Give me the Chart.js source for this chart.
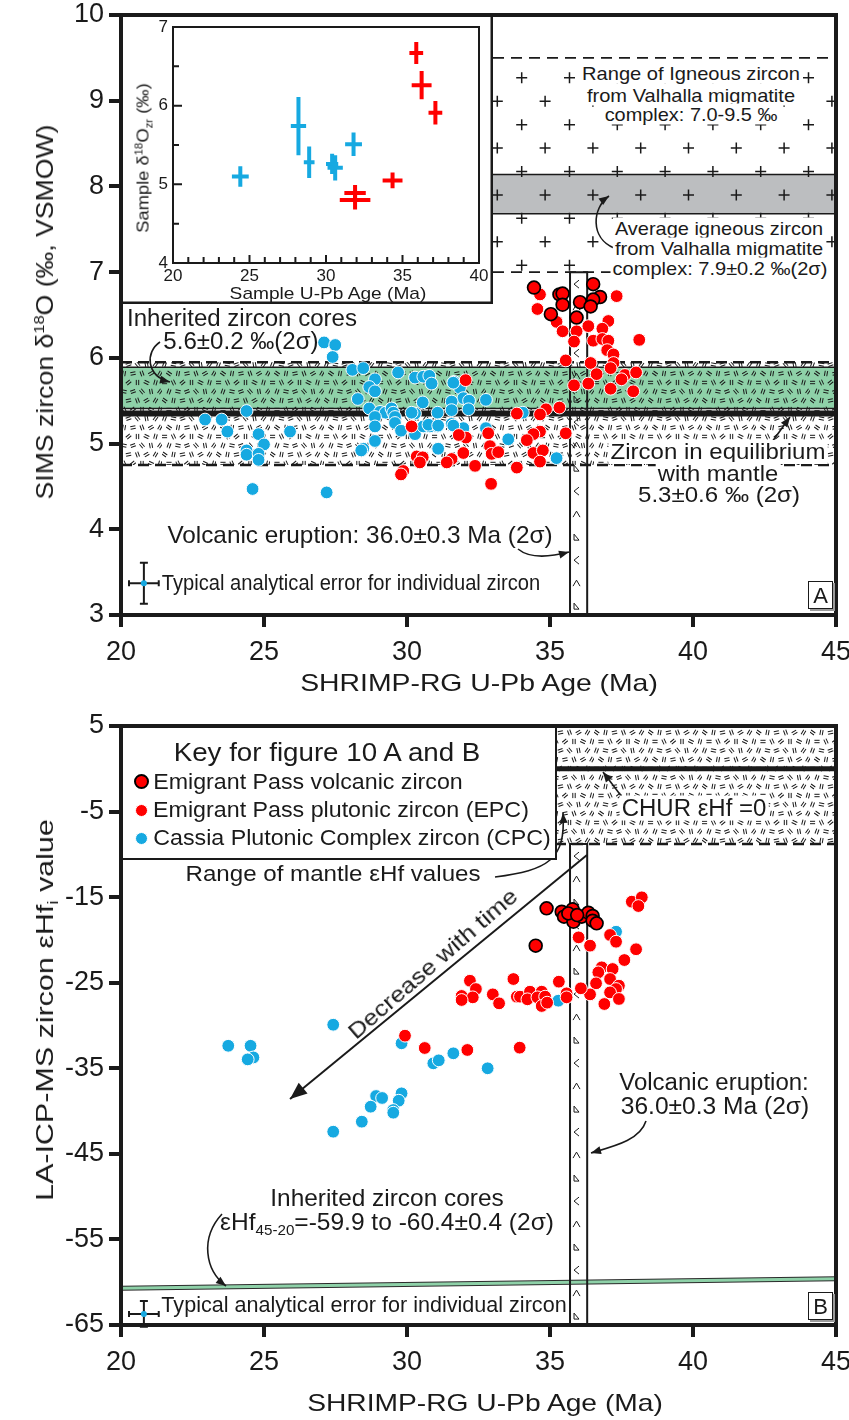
<!DOCTYPE html>
<html><head><meta charset="utf-8">
<script src="https://cdn.jsdelivr.net/npm/chart.js@4"></script>
<style>
body{margin:0;background:#fff;}
#page{position:relative;width:849px;height:1420px;overflow:hidden;background:#fff;font-family:"Liberation Sans",Arial,Helvetica,sans-serif;color:#1a1a1a;}
canvas{position:absolute;}
.t{position:absolute;white-space:nowrap;line-height:1;transform-origin:50% 50%;}
.t sub,.t sup{line-height:0;}
</style></head>
<body><div id="page">
<canvas id="cA" width="849" height="710" style="left:0;top:0"></canvas>
<canvas id="cB" width="849" height="710" style="left:0;top:710px"></canvas>
<canvas id="cI" width="370" height="287" style="left:123px;top:17px;background:#fff"></canvas>
<canvas id="ov" width="849" height="1420" style="left:0;top:0"></canvas>
</div>
<script>
// ---------------- DATA ----------------
// Panel A: SIMS zircon d18O vs SHRIMP-RG age
const volcAgeA = [34.44,35.33,35.44,35.44,35.03,35.93,36.05,36.51,36.75,36.51,36.42];
const volcD18OA = [6.82,6.74,6.75,6.62,6.51,6.47,6.65,6.86,6.71,6.68,6.60];
const epcAgeA = [34.65,34.56,37.33,35.23,35.44,35.93,36.34,35.84,36.51,37.04,36.83,36.83,37.04,38.12,37.00,37.22,35.55,36.42,37.22,37.12,36.63,35.84,36.34,37.62,37.50,38.01,37.12,37.91,32.05,34.86,34.65,35.33,33.84,35.55,34.65,34.42,34.19,32.84,32.06,31.81,32.90,32.96,33.19,31.97,31.56,31.39,30.34,30.55,30.45,32.38,33.84,34.42,34.75,34.65,32.94,30.16,29.87,29.79];
const epcD18OA = [6.74,6.57,6.72,6.42,6.31,6.31,6.37,6.19,6.20,6.43,6.34,6.22,6.20,6.21,6.09,6.04,5.97,5.94,5.94,5.88,5.81,5.68,5.70,5.80,5.75,5.83,5.64,5.61,5.74,5.40,5.34,5.42,5.35,5.12,5.14,5.11,5.04,5.12,5.07,5.10,4.97,4.88,4.90,4.89,4.82,4.78,4.85,4.84,4.78,4.74,4.72,4.89,4.92,4.79,4.53,5.20,4.68,4.64];
const cpcAgeA = [27.10,27.49,27.40,28.09,28.47,28.88,28.68,28.88,28.28,29.69,30.28,30.57,30.78,30.86,31.65,31.85,31.97,32.17,32.15,31.56,31.56,30.55,31.07,30.28,30.16,28.68,29.06,29.25,29.46,29.52,28.88,29.58,29.58,28.88,29.79,30.28,30.57,30.80,31.07,31.56,31.97,28.88,28.47,28.40,31.07,22.94,23.52,24.39,23.72,24.81,25.00,24.39,24.39,24.81,24.81,25.91,24.60,27.19,32.76,34.05,30.75,31.09,31.62,32.76,31.09,33.54,35.23,31.62];
const cpcD18OA = [6.18,6.15,6.01,5.86,5.88,5.75,5.66,5.61,5.52,5.83,5.77,5.78,5.79,5.70,5.72,5.65,5.53,5.50,5.40,5.49,5.39,5.48,5.36,5.35,5.36,5.41,5.37,5.36,5.41,5.36,5.31,5.31,5.24,5.20,5.15,5.11,5.20,5.20,5.20,5.23,5.18,5.03,4.94,4.92,4.94,5.28,5.28,5.38,5.14,5.11,4.99,4.92,4.87,4.88,4.81,5.14,4.47,4.43,5.51,5.36,5.22,5.21,5.21,5.18,4.94,5.05,4.83,5.71];

// Inset: sample averages with errors
const insCpcAge = [24.4,28.2,28.9,30.4,30.6,31.8];
const insCpcD18O = [5.10,5.74,5.28,5.26,5.21,5.51];
const insCpcAgeErr = [0.55,0.5,0.35,0.4,0.5,0.55];
const insCpcD18OErr = [0.13,0.37,0.2,0.13,0.16,0.15];
const insEpcAge = [31.9,31.9,34.35,35.9,36.25,37.15];
const insEpcD18O = [4.89,4.80,5.05,6.67,6.26,5.91];
const insEpcAgeErr = [0.7,1.0,0.65,0.45,0.65,0.45];
const insEpcD18OErr = [0.1,0.12,0.1,0.14,0.18,0.15];

// Panel B: LA-ICP-MS eHf vs age
const volcAgeB = [34.88,35.41,35.79,35.49,35.82,36.11,36.34,36.49,36.49,36.63,34.50,35.64,35.95];
const volcHfB = [-16.31,-16.70,-16.42,-17.28,-17.87,-17.28,-16.82,-17.20,-17.75,-18.06,-20.67,-16.90,-17.10];
const epcAgeB = [37.86,38.21,38.09,37.10,37.31,36.00,36.40,38.01,37.60,36.81,36.69,37.19,37.10,36.61,37.41,37.31,37.10,36.40,36.08,36.90,37.41,35.31,35.58,35.58,32.20,32.41,31.91,32.30,31.91,33.72,33.00,33.22,33.84,33.95,34.30,34.21,34.71,34.56,34.83,34.71,34.90,29.93,30.62,32.11,33.94];
const epcHfB = [-15.53,-15.02,-16.04,-19.42,-20.21,-19.70,-20.67,-21.09,-22.35,-23.20,-23.79,-23.40,-24.57,-25.07,-25.35,-25.74,-26.13,-26.36,-25.65,-27.49,-26.90,-24.88,-26.24,-26.71,-24.77,-25.74,-26.55,-26.71,-27.02,-24.57,-26.36,-27.41,-26.63,-26.63,-26.05,-26.94,-26.05,-26.71,-26.63,-27.72,-27.33,-31.19,-32.63,-32.86,-32.59];
const cpcAgeB = [37.31,35.29,27.42,23.75,24.53,24.63,24.43,29.81,30.92,31.11,31.62,32.82,28.92,29.13,29.81,29.71,28.73,29.52,29.52,28.42,27.42];
const cpcHfB = [-19.04,-27.10,-29.91,-32.37,-32.37,-33.73,-33.96,-32.08,-34.42,-34.07,-33.25,-35.00,-38.24,-38.47,-37.93,-38.79,-39.49,-39.88,-40.19,-41.24,-42.41];

// Reference ranges
const mantleD18O = [4.75, 5.95];
const inheritedD18O = [5.41, 5.89];
const mantleLineD18O = 5.35;
const valhallaRange = [7.0, 9.5];
const valhallaAvg = [7.68, 8.14];
const eruptionAge = [35.7, 36.3];
const mantleHf = [-8.8, 5];
const churHf = 0;
const inheritedHfEnds = [-60.7, -59.6]; // at age 20 and 45
const typErrA = {x:20.8, y:3.37, ex:0.52, ey:0.24};
const typErrB = {x:20.8, y:-63.7, ex:0.52, ey:1.5};

const xTicks = [20,25,30,35,40,45];

// ---------------- STYLE ----------------
const RED = '#ff0000', BLUE = '#16a9e1', GREEN = '#8ed1a8', GRAY = '#bcbec0', INK = '#1a1a1a';
const FONT = '"Liberation Sans", Arial, Helvetica, sans-serif';
const zip = (a,b) => a.map((v,i)=>({x:v,y:b[i]}));

function makeTexture(){
  const c = document.createElement('canvas'); c.width = 54; c.height = 54;
  const g = c.getContext('2d');
  g.strokeStyle = '#1a1a1a'; g.lineWidth = 1;
  const angles = [0,65,-40,90,25,-75,110,10,-20,50,80,-55,35,100,-10,70,-30,120];
  let k = 0;
  for (let r=0;r<6;r++) for (let col=0;col<6;col++){
    const cx = col*9 + (r%2?4.5:0) + 2.5, cy = r*9 + 4.5;
    const a = angles[(k++)%angles.length]*Math.PI/180;
    g.save(); g.translate(cx,cy); g.rotate(a);
    g.beginPath(); g.moveTo(-2.6,-1.2); g.lineTo(2.6,-1.2); g.moveTo(-2.6,1.2); g.lineTo(2.6,1.2); g.stroke();
    g.restore();
  }
  return c;
}
const texCanvas = makeTexture();

function hline(ctx, x0, x1, y, w, dash){
  ctx.save(); ctx.lineWidth = w; ctx.strokeStyle = INK; ctx.setLineDash(dash||[]);
  ctx.beginPath(); ctx.moveTo(x0,y); ctx.lineTo(x1,y); ctx.stroke(); ctx.restore();
}
function volcBar(ctx, x0, x1, top, bottom){
  ctx.save(); ctx.strokeStyle = INK; ctx.lineWidth = 2;
  ctx.beginPath(); ctx.moveTo(x0,bottom); ctx.lineTo(x0,top); ctx.lineTo(x1,top); ctx.lineTo(x1,bottom); ctx.stroke();
  ctx.lineWidth = 1;
  let i = 0;
  for (let py = top + 12; py < bottom - 4; py += 23, i++){
    ctx.beginPath();
    if (i%3===0){ ctx.moveTo(x0+9,py-4); ctx.lineTo(x0+4,py); ctx.lineTo(x0+9,py+4); }
    else if (i%3===1){ ctx.moveTo(x0+3,py+3); ctx.lineTo(x0+6.5,py-3); ctx.lineTo(x0+10,py+3); }
    else { ctx.moveTo(x0+4,py+3); ctx.lineTo(x0+4,py-3); ctx.lineTo(x0+9,py+3); ctx.closePath(); }
    ctx.stroke();
  }
  ctx.restore();
}
function typErr(ctx, x, y, e){
  const cx = x.getPixelForValue(e.x), cy = y.getPixelForValue(e.y);
  const x0 = x.getPixelForValue(e.x-e.ex), x1 = x.getPixelForValue(e.x+e.ex);
  const y0 = y.getPixelForValue(e.y-e.ey), y1 = y.getPixelForValue(e.y+e.ey);
  ctx.save(); ctx.strokeStyle = INK; ctx.lineWidth = 2;
  ctx.beginPath();
  ctx.moveTo(x0,cy); ctx.lineTo(x1,cy);
  ctx.moveTo(x0,cy-3); ctx.lineTo(x0,cy+3); ctx.moveTo(x1,cy-3); ctx.lineTo(x1,cy+3);
  ctx.moveTo(cx,y0); ctx.lineTo(cx,y1);
  ctx.moveTo(cx-4,y0); ctx.lineTo(cx+4,y0); ctx.moveTo(cx-4,y1); ctx.lineTo(cx+4,y1);
  ctx.stroke();
  ctx.fillStyle = BLUE; ctx.beginPath(); ctx.arc(cx,cy,3,0,Math.PI*2); ctx.fill();
  ctx.restore();
}
function frame(ctx, ca, w){
  ctx.save(); ctx.strokeStyle = INK; ctx.lineWidth = w;
  ctx.strokeRect(ca.left, ca.top, ca.right-ca.left, ca.bottom-ca.top); ctx.restore();
}

const INSET_RIGHT = 493;   // px, right edge of inset box in panel A
const LEGEND_RIGHT = 555;  // px, right edge of key box in panel B

const pluginA = {
  id:'pA',
  beforeDatasetsDraw(chart){
    const {ctx, chartArea:ca, scales:{x,y}} = chart;
    const tex = ctx.createPattern(texCanvas,'repeat');
    ctx.save();
    ctx.beginPath(); ctx.rect(ca.left, ca.top, ca.right-ca.left, ca.bottom-ca.top); ctx.clip();
    const g1 = y.getPixelForValue(inheritedD18O[1]), g0 = y.getPixelForValue(inheritedD18O[0]);
    ctx.fillStyle = GREEN; ctx.fillRect(ca.left, g1, ca.right-ca.left, g0-g1);
    const m1 = y.getPixelForValue(mantleD18O[1]), m0 = y.getPixelForValue(mantleD18O[0]);
    ctx.fillStyle = tex; ctx.fillRect(ca.left, m1, ca.right-ca.left, m0-m1);
    hline(ctx, ca.left, ca.right, g1, 1.5); hline(ctx, ca.left, ca.right, g0, 1.5);
    hline(ctx, ca.left, ca.right, m1, 2.5, [11,6]); hline(ctx, ca.left, ca.right, m0, 2.5, [11,6]);
    hline(ctx, ca.left, ca.right, y.getPixelForValue(mantleLineD18O), 6);
    const v1 = y.getPixelForValue(valhallaRange[1]), v0 = y.getPixelForValue(valhallaRange[0]);
    const a1 = y.getPixelForValue(valhallaAvg[1]), a0 = y.getPixelForValue(valhallaAvg[0]);
    ctx.fillStyle = GRAY; ctx.fillRect(INSET_RIGHT, a1, ca.right-INSET_RIGHT, a0-a1);
    ctx.strokeStyle = INK; ctx.lineWidth = 1.5;
    const step = 47.8, rowH = (v0 - v1 - 27) / 8;
    for (let r=0;r<9;r++){
      const py = v1 + 20 + r*rowH;
      for (let px = (r%2? INSET_RIGHT+4.3 : INSET_RIGHT+28.7); px < ca.right+6; px += step){
        ctx.beginPath(); ctx.moveTo(px-5.5,py); ctx.lineTo(px+5.5,py); ctx.moveTo(px,py-5.5); ctx.lineTo(px,py+5.5); ctx.stroke();
      }
    }
    hline(ctx, INSET_RIGHT, ca.right, a1, 1.5); hline(ctx, INSET_RIGHT, ca.right, a0, 1.5);
    hline(ctx, INSET_RIGHT, ca.right, v1, 1.6, [11,7]); hline(ctx, INSET_RIGHT, ca.right, v0, 1.6, [11,7]);
    volcBar(ctx, x.getPixelForValue(eruptionAge[0]), x.getPixelForValue(eruptionAge[1]), v0, ca.bottom);
    ctx.restore();
  },
  afterDatasetsDraw(chart){
    const {ctx, scales:{x,y}} = chart;
    typErr(ctx, x, y, typErrA);
  },
  afterDraw(chart){ frame(chart.ctx, chart.chartArea, 4); }
};

const pluginB = {
  id:'pB',
  beforeDatasetsDraw(chart){
    const {ctx, chartArea:ca, scales:{x,y}} = chart;
    const tex = ctx.createPattern(texCanvas,'repeat');
    ctx.save();
    ctx.beginPath(); ctx.rect(ca.left, ca.top, ca.right-ca.left, ca.bottom-ca.top); ctx.clip();
    const t = y.getPixelForValue(mantleHf[1]), b = y.getPixelForValue(mantleHf[0]);
    ctx.fillStyle = tex; ctx.fillRect(LEGEND_RIGHT, t, ca.right-LEGEND_RIGHT, b-t);
    hline(ctx, LEGEND_RIGHT, ca.right, b, 2.5, [11,6]);
    hline(ctx, LEGEND_RIGHT, ca.right, y.getPixelForValue(churHf), 5);
    const ya = y.getPixelForValue(inheritedHfEnds[0]), yb = y.getPixelForValue(inheritedHfEnds[1]);
    const xa = x.getPixelForValue(20), xb = x.getPixelForValue(45);
    ctx.lineWidth = 5; ctx.strokeStyle = '#2b2b2b';
    ctx.beginPath(); ctx.moveTo(xa,ya); ctx.lineTo(xb,yb); ctx.stroke();
    ctx.lineWidth = 3; ctx.strokeStyle = GREEN;
    ctx.beginPath(); ctx.moveTo(xa,ya); ctx.lineTo(xb,yb); ctx.stroke();
    volcBar(ctx, x.getPixelForValue(eruptionAge[0]), x.getPixelForValue(eruptionAge[1]), b, ca.bottom);
    ctx.restore();
  },
  afterDatasetsDraw(chart){
    const {ctx, scales:{x,y}} = chart;
    typErr(ctx, x, y, typErrB);
  },
  afterDraw(chart){ frame(chart.ctx, chart.chartArea, 4); }
};

function pointDs(label, xs, ys, fill, border, bw, order){
  return {label, data: zip(xs, ys), pointBackgroundColor: fill, pointBorderColor: border,
    pointBorderWidth: bw, pointRadius: 6.4, pointHoverRadius: 6.4, showLine:false, order};
}

function mainOptions(yMin, yMax, yStep, plugin){
  return {
    type:'scatter',
    options:{
      animation:false, responsive:false, devicePixelRatio:1,
      layout:{padding:{left:0,right:13,top:15,bottom:0}},
      plugins:{legend:{display:false}, tooltip:{enabled:false}},
      scales:{
        x:{type:'linear', min:20, max:45, position:'bottom',
          afterBuildTicks: s => { s.ticks = xTicks.map(v=>({value:v})); },
          ticks:{font:{family:FONT,size:27}, color:INK, padding:9, maxRotation:0, autoSkip:false},
          grid:{drawOnChartArea:false, drawTicks:true, tickLength:12, tickWidth:4, tickColor:INK, color:INK, lineWidth:4},
          border:{display:true, width:4, color:INK},
          afterFit: s => { s.height = 95; s.paddingLeft = 0; s.paddingRight = 0; }
        },
        y:{type:'linear', min:yMin, max:yMax, position:'left',
          ticks:{stepSize:yStep, font:{family:FONT,size:27}, color:INK, padding:5},
          grid:{drawOnChartArea:false, drawTicks:true, tickLength:12, tickWidth:4, tickColor:INK, color:INK, lineWidth:4},
          border:{display:true, width:4, color:INK},
          afterFit: s => { s.width = 121; s.paddingTop = 0; s.paddingBottom = 0; }
        }
      }
    },
    plugins:[plugin]
  };
}

const cfgA = mainOptions(3, 10, 1, pluginA);
cfgA.data = {datasets:[
  pointDs('Emigrant Pass volcanic zircon', volcAgeA, volcD18OA, RED, '#000', 1.7, 0),
  pointDs('Emigrant Pass plutonic zircon (EPC)', epcAgeA, epcD18OA, RED, '#fff', 1, 1),
  pointDs('Cassia Plutonic Complex zircon (CPC)', cpcAgeA, cpcD18OA, BLUE, '#fff', 1, 2)
]};
new Chart(document.getElementById('cA'), cfgA);

const cfgB = mainOptions(-65, 5, 10, pluginB);
cfgB.options.layout.padding.top = 16;
cfgB.data = {datasets:[
  pointDs('Emigrant Pass volcanic zircon', volcAgeB, volcHfB, RED, '#000', 1.7, 0),
  pointDs('Emigrant Pass plutonic zircon (EPC)', epcAgeB, epcHfB, RED, '#fff', 1, 1),
  pointDs('Cassia Plutonic Complex zircon (CPC)', cpcAgeB, cpcHfB, BLUE, '#fff', 1, 2)
]};
new Chart(document.getElementById('cB'), cfgB);

// ---- inset ----
const pluginI = {
  id:'pI',
  afterDatasetsDraw(chart){
    const {ctx, scales:{x,y}} = chart;
    chart.data.datasets.forEach(ds=>{
      ctx.save(); ctx.strokeStyle = ds.crossColor; ctx.lineWidth = 4;
      ds.data.forEach((p,i)=>{
        const px = x.getPixelForValue(p.x), py = y.getPixelForValue(p.y);
        ctx.beginPath();
        ctx.moveTo(x.getPixelForValue(p.x-ds.errX[i]), py); ctx.lineTo(x.getPixelForValue(p.x+ds.errX[i]), py);
        ctx.moveTo(px, y.getPixelForValue(p.y-ds.errY[i])); ctx.lineTo(px, y.getPixelForValue(p.y+ds.errY[i]));
        ctx.stroke();
      });
      ctx.restore();
    });
  },
  afterDraw(chart){
    const {ctx, chartArea:ca, scales:{x,y}} = chart;
    ctx.save(); ctx.strokeStyle = INK; ctx.lineWidth = 2;
    ctx.strokeRect(ca.left, ca.top, ca.right-ca.left, ca.bottom-ca.top);
    ctx.beginPath();
    for (let v=20; v<=40; v++){ const px = x.getPixelForValue(v); ctx.moveTo(px, ca.bottom); ctx.lineTo(px, ca.bottom-(v%5===0?8:6)); }
    for (let v=4; v<=7; v+=0.5){ const py = y.getPixelForValue(v); ctx.moveTo(ca.left, py); ctx.lineTo(ca.left+(Number.isInteger(v)?9:6), py); }
    ctx.stroke();
    ctx.lineWidth = 2.5;
    ctx.beginPath(); ctx.moveTo(chart.width-1.25, 0); ctx.lineTo(chart.width-1.25, chart.height-1.25); ctx.lineTo(0, chart.height-1.25); ctx.stroke();
    ctx.restore();
  }
};
new Chart(document.getElementById('cI'), {
  type:'scatter',
  data:{datasets:[
    {label:'CPC samples', data: zip(insCpcAge, insCpcD18O), errX: insCpcAgeErr, errY: insCpcD18OErr, crossColor: BLUE, pointRadius:0, showLine:false},
    {label:'EPC samples', data: zip(insEpcAge, insEpcD18O), errX: insEpcAgeErr, errY: insEpcD18OErr, crossColor: RED, pointRadius:0, showLine:false}
  ]},
  options:{
    animation:false, responsive:false, devicePixelRatio:1,
    layout:{padding:{left:0,right:14,top:10,bottom:0}},
    plugins:{legend:{display:false}, tooltip:{enabled:false}},
    scales:{
      x:{type:'linear', min:20, max:40, ticks:{stepSize:5, font:{family:FONT,size:17}, color:INK, padding:3, maxRotation:0},
        grid:{display:false, drawTicks:false}, border:{display:false},
        afterFit: s => { s.height = 41; s.paddingLeft = 0; s.paddingRight = 0; }},
      y:{type:'linear', min:4, max:7, ticks:{stepSize:1, font:{family:FONT,size:17}, color:INK, padding:5},
        grid:{display:false, drawTicks:false}, border:{display:false},
        afterFit: s => { s.width = 50; s.paddingTop = 0; s.paddingBottom = 0; }}
    }
  },
  plugins:[pluginI]
});

// ---------------- overlay arrows ----------------
const ov = document.getElementById('ov').getContext('2d');
ov.strokeStyle = INK; ov.fillStyle = INK; ov.lineWidth = 1.6;
function head(x, y, ang, len, w){
  ov.beginPath(); ov.moveTo(x,y);
  ov.lineTo(x - len*Math.cos(ang) + w*Math.sin(ang), y - len*Math.sin(ang) - w*Math.cos(ang));
  ov.lineTo(x - len*Math.cos(ang) - w*Math.sin(ang), y - len*Math.sin(ang) + w*Math.cos(ang));
  ov.closePath(); ov.fill();
}
function curve(p0,c1,c2,p1){
  ov.beginPath(); ov.moveTo(p0[0],p0[1]); ov.bezierCurveTo(c1[0],c1[1],c2[0],c2[1],p1[0],p1[1]); ov.stroke();
  head(p1[0],p1[1],Math.atan2(p1[1]-c2[1],p1[0]-c2[0]),10,4);
}
function straight(p0,p1,len,w,lw){
  ov.save(); ov.lineWidth = lw||1.6;
  ov.beginPath(); ov.moveTo(p0[0],p0[1]); ov.lineTo(p1[0],p1[1]); ov.stroke();
  head(p1[0],p1[1],Math.atan2(p1[1]-p0[1],p1[0]-p0[0]),len||10,w||4);
  ov.restore();
}
curve([160,342],[145,352],[146,376],[170,382]);
curve([614,248],[590,238],[592,208],[609,196]);
straight([772,442],[790,417]);
curve([518,549],[530,559],[550,557],[569,552]);
straight([622,797],[603,772]);
curve([495,877],[548,870],[566,860],[563,813]);
straight([587,855],[290,1099],17,7,2);
curve([646,1121],[640,1140],[615,1146],[591,1153]);
curve([222,1214],[200,1238],[205,1270],[226,1286]);

// ---------------- text ----------------
const page = document.getElementById('page');
function txt(html, cx, cy, size, w, o){
  o = o || {};
  const d = document.createElement('div'); d.className = 't'; d.innerHTML = html;
  d.style.fontSize = size+'px'; d.style.left = cx+'px'; d.style.top = cy+'px';
  if (o.bg){ d.style.background = '#fff'; d.style.padding = '1px 2px'; }
  page.appendChild(d);
  const nat = d.offsetWidth - (o.bg?4:0);
  const k = w ? w/nat : 1;
  const rot = o.rot ? ` rotate(${o.rot}deg)` : '';
  d.style.transform = `translate(-50%,-50%)${rot} scaleX(${k.toFixed(4)})`;
  return d;
}
const SUP = '<sup style="font-size:0.62em;vertical-align:0.6em">';
const SUB = '<sub style="font-size:0.62em;vertical-align:-0.35em">';

txt('Inherited zircon cores', 242, 318, 23, 230);
txt('5.6±0.2 ‰(2σ)', 241, 341, 23, 155);
txt('Range of Igneous zircon', 690.5, 73, 19, 218, {bg:1});
txt('from Valhalla migmatite', 691, 94.5, 19, 208, {bg:1});
txt('complex: 7.0-9.5 ‰', 690.7, 114, 19, 173, {bg:1});
txt('Average igneous zircon', 719, 227.7, 19, 208, {bg:1});
txt('from Valhalla migmatite', 719, 247.5, 19, 208, {bg:1});
txt('complex: 7.9±0.2 ‰(2σ)', 720, 268.3, 19, 215, {bg:1});
txt('Zircon in equilibrium', 717.5, 452, 22, 215, {bg:1});
txt('with mantle', 718.3, 473.5, 22, 120, {bg:1});
txt('5.3±0.6 ‰ (2σ)', 719, 495, 22, 162, {bg:1});
txt('Volcanic eruption: 36.0±0.3 Ma (2σ)', 359.5, 535, 24, 385);
txt('Typical analytical error for individual zircon', 350.7, 583.3, 22, 378);
txt('SIMS zircon δ'+SUP+'18</sup>O (‰, VSMOW)', 45, 312, 24, 375, {rot:-90});
txt('SHRIMP-RG U-Pb Age (Ma)', 478.6, 683, 24, 358);
txt('Sample U-Pb Age (Ma)', 328.3, 292.5, 17, 197);
txt('Sample δ'+SUP+'18</sup>O'+SUB+'zr</sub> (‰)', 143, 158, 17, 150, {rot:-90});

txt('Range of mantle εHf values', 332.5, 874, 22, 295);
txt('CHUR εHf =0', 694.2, 808.3, 23, 145, {bg:1});
txt('Decrease with time', 433, 964, 22, 216, {rot:-41});
txt('Volcanic eruption:', 714, 1081.7, 23, 190);
txt('36.0±0.3 Ma (2σ)', 715.3, 1105.5, 23, 188);
txt('Inherited zircon cores', 387.3, 1197.7, 24, 233);
txt('εHf'+SUB+'45-20</sub>=-59.9 to -60.4±0.4 (2σ)', 387, 1221.7, 24, 334);
txt('Typical analytical error for individual zircon', 363.7, 1305, 22, 405);
txt('LA-ICP-MS zircon εHf'+SUB+'i</sub> value', 45, 1010, 24, 382, {rot:-90});
txt('SHRIMP-RG U-Pb Age (Ma)', 484.6, 1403, 24, 356);

const key = document.createElement('div');
key.style.cssText = 'position:absolute;left:121px;top:726px;width:432px;height:130px;border:2px solid #1a1a1a;background:#fff;';
page.appendChild(key);
txt('Key for figure 10 A and B', 326.7, 751.7, 26, 307);
function marker(cx, cy, fill, border, bw, r){
  const m = document.createElement('div');
  m.style.cssText = `position:absolute;left:${cx-r}px;top:${cy-r}px;width:${2*r}px;height:${2*r}px;border-radius:50%;background:${fill};box-sizing:border-box;border:${bw}px solid ${border};`;
  page.appendChild(m);
}
marker(141.7, 781.7, RED, '#000', 2, 7.5);
marker(141.7, 810, RED, '#fff', 1, 6.5);
marker(141.7, 838.3, BLUE, '#fff', 1, 6.5);
txt('Emigrant Pass volcanic zircon', 308, 781.7, 22, 309);
txt('Emigrant Pass plutonic zircon (EPC)', 341.2, 810, 22, 376);
txt('Cassia Plutonic Complex zircon (CPC)', 352.2, 838.3, 22, 398);

function letterBox(ch, l, t, w, h){
  const b = document.createElement('div');
  b.style.cssText = `position:absolute;left:${l}px;top:${t}px;width:${w}px;height:${h}px;border:1.5px solid #1a1a1a;box-shadow:2px 2px 0 #9a9a9a;background:#fff;font-size:22px;line-height:${h}px;text-align:center;box-sizing:border-box;`;
  b.textContent = ch; page.appendChild(b);
}
letterBox('A', 808, 581, 25, 28);
letterBox('B', 808, 1292, 25, 28);
</script>
</body></html>
